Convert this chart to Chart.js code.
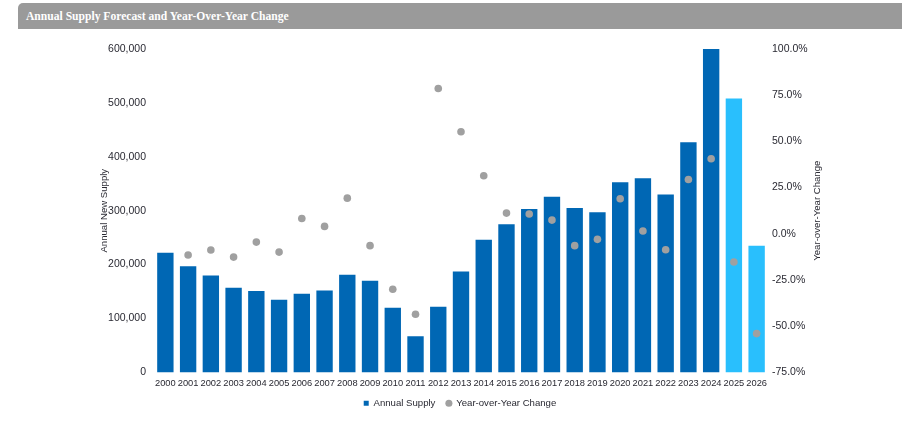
<!DOCTYPE html>
<html>
<head>
<meta charset="utf-8">
<script src="https://cdn.jsdelivr.net/npm/chart.js@4"></script>
<style>
  body { margin: 0; background: #fff; }
  #wrap { position: relative; width: 902px; height: 423px; }
  #titlebar {
    position: absolute; left: 18px; top: 3px; width: 884px; height: 26px;
    background: #9a9a9a; border-radius: 5px 0 0 0;
    color: #fff; font: bold 11.6px "Liberation Serif", "DejaVu Serif", serif;
    line-height: 27px; padding-left: 8px; box-sizing: border-box;
  }
  canvas { position: absolute; left: 0; top: 0; }
</style>
</head>
<body>
<div id="wrap">
  <canvas id="supplyChart" width="902" height="423"></canvas>
  <div id="titlebar">Annual Supply Forecast and Year-Over-Year Change</div>
</div>
<script>
const years = ['2000', '2001', '2002', '2003', '2004', '2005', '2006', '2007', '2008', '2009',
               '2010', '2011', '2012', '2013', '2014', '2015', '2016', '2017', '2018', '2019',
               '2020', '2021', '2022', '2023', '2024', '2025', '2026'];
const annualSupply = [222000, 197000, 180000, 157000, 151000, 135000, 146000, 152000, 181000, 170000,
                      120000, 67000, 122000, 187000, 246000, 275000, 303000, 326000, 305000, 297000,
                      353000, 360000, 330000, 427000, 600000, 508000, 235000];
const yoyChange = [null, -11.5, -8.8, -12.6, -4.5, -9.9, 8.3, 4.0, 19.3, -6.4,
                   -30.0, -43.5, 78.6, 55.2, 31.4, 11.2, 10.7, 7.4, -6.4, -3.0,
                   19.0, 1.5, -8.6, 29.4, 40.6, -15.3, -54.0];
const forecastYears = ['2025', '2026'];

const barColors = years.map(y => forecastYears.includes(y) ? '#29bffd' : '#0067b4');
const fontFamily = '"Liberation Sans", Arial, sans-serif';
const textColor = '#2a2a33';

// axis titles drawn by hand so both read bottom-to-top
const axisTitles = {
    id: 'axisTitles',
    afterDraw(chart) {
        const ctx = chart.ctx;
        const mid = (chart.chartArea.top + chart.chartArea.bottom) / 2;
        ctx.save();
        ctx.font = '9.6px ' + fontFamily;
        ctx.fillStyle = textColor;
        ctx.textAlign = 'center';
        ctx.textBaseline = 'middle';
        [[104, 'Annual New Supply'], [817, 'Year-over-Year Change']].forEach(([x, text]) => {
            ctx.save();
            ctx.translate(x, mid);
            ctx.rotate(-Math.PI / 2);
            ctx.fillText(text, 0, 0);
            ctx.restore();
        });
        ctx.restore();
    }
};

new Chart(document.getElementById('supplyChart'), {
    type: 'bar',
    data: {
        labels: years,
        datasets: [{
            type: 'bar',
            label: 'Annual Supply',
            data: annualSupply,
            backgroundColor: barColors,
            barPercentage: 0.8,
            categoryPercentage: 0.9,
            yAxisID: 'y',
            order: 2
        }, {
            type: 'line',
            label: 'Year-over-Year Change',
            data: yoyChange,
            showLine: false,
            pointRadius: 3.8,
            pointBackgroundColor: '#a0a0a0',
            pointBorderWidth: 0,
            borderColor: '#a0a0a0',
            backgroundColor: '#a0a0a0',
            yAxisID: 'y1',
            order: 1
        }]
    },
    options: {
        responsive: false,
        animation: false,
        layout: { padding: { top: 49, bottom: 5, left: 18 } },
        plugins: {
            legend: {
                position: 'bottom',
                labels: {
                    font: { family: fontFamily, size: 9.6 },
                    color: textColor,
                    usePointStyle: true,
                    boxWidth: 5,
                    boxHeight: 5,
                    padding: 11,
                    sort: (a, b) => a.datasetIndex - b.datasetIndex,
                    generateLabels(chart) {
                        const items = Chart.defaults.plugins.legend.labels.generateLabels(chart);
                        items.forEach(it => {
                            it.pointStyle = it.datasetIndex === 0 ? 'rect' : 'circle';
                            it.strokeStyle = it.fillStyle;
                            it.lineWidth = 0;
                        });
                        return items;
                    }
                }
            },
            tooltip: { enabled: false }
        },
        scales: {
            x: {
                grid: { display: false, drawTicks: false },
                border: { display: false },
                ticks: { font: { family: fontFamily, size: 9.3 }, color: textColor, maxRotation: 0, autoSkip: false, padding: 5 },
                afterFit(scale) { scale.height = 15; }
            },
            y: {
                position: 'left',
                min: 0,
                max: 600000,
                grid: { display: false, drawTicks: false },
                border: { display: false },
                ticks: {
                    stepSize: 100000,
                    font: { family: fontFamily, size: 10.5 },
                    color: textColor,
                    padding: 8,
                    callback: v => v.toLocaleString('en-US')
                },
                afterFit(scale) { scale.width = 136; }
            },
            y1: {
                position: 'right',
                min: -75,
                max: 100,
                grid: { display: false, drawTicks: false },
                border: { display: false },
                ticks: {
                    stepSize: 25,
                    font: { family: fontFamily, size: 10.5 },
                    color: textColor,
                    padding: 4,
                    callback: v => v.toFixed(1) + '%'
                },
                afterFit(scale) { scale.width = 134; }
            }
        }
    },
    plugins: [axisTitles]
});
</script>
</body>
</html>
